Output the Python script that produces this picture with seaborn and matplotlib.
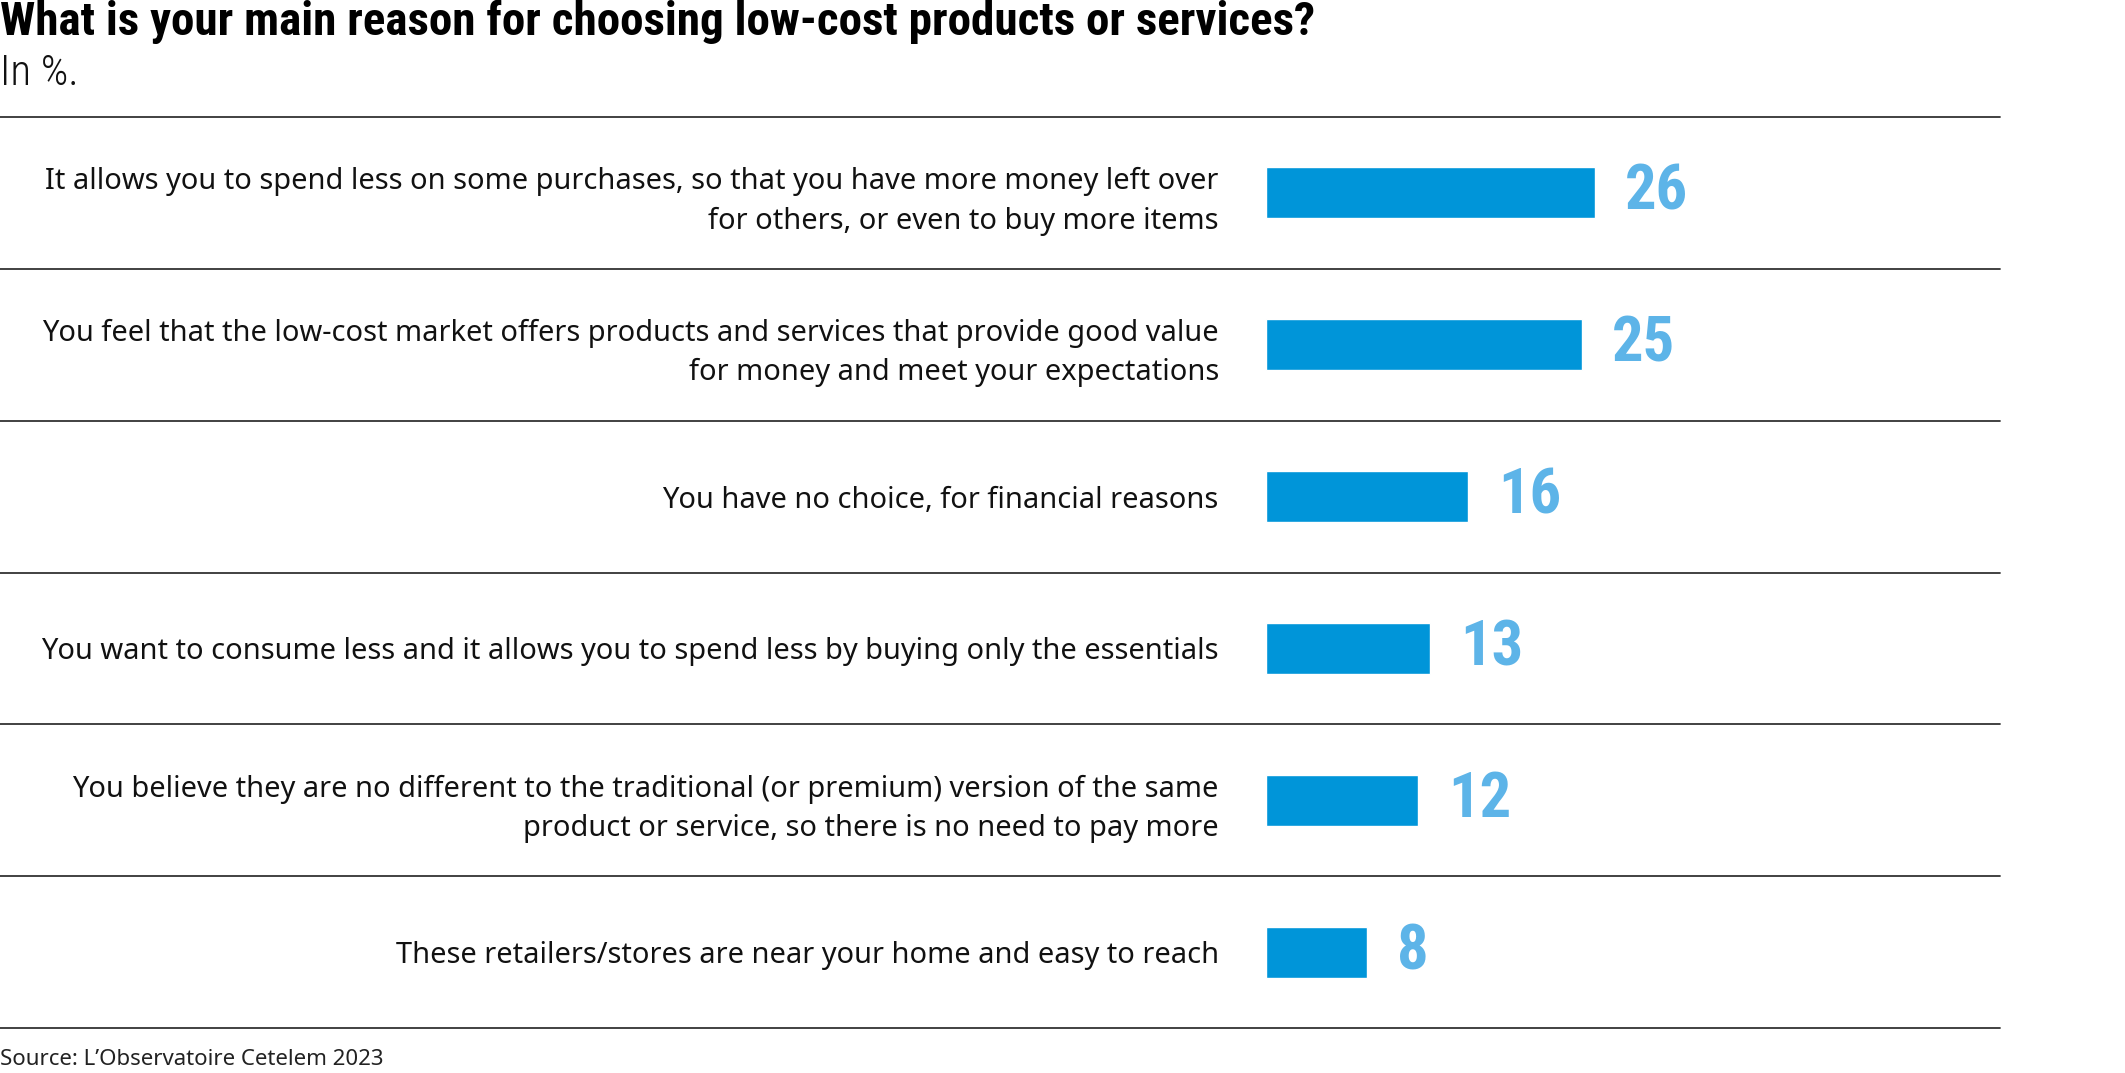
import matplotlib
matplotlib.use("Agg")
import matplotlib.pyplot as plt
import seaborn as sns
from matplotlib import font_manager

categories = [
    "It allows you to spend less on some purchases, so that you have more money left over\nfor others, or even to buy more items",
    "You feel that the low-cost market offers products and services that provide good value\nfor money and meet your expectations",
    "You have no choice, for financial reasons",
    "You want to consume less and it allows you to spend less by buying only the essentials",
    "You believe they are no different to the traditional (or premium) version of the same\nproduct or service, so there is no need to pay more",
    "These retailers/stores are near your home and easy to reach",
]
values = [26, 25, 16, 13, 12, 8]

title = "What is your main reason for choosing low-cost products or services?"
subtitle = "In %."
source = "Source: L\u2019Observatoire Cetelem 2023"

BAR_COLOR = "#0095D9"
VALUE_COLOR = "#5DB4E8"
LINE_COLOR = "#333333"

sns.set_theme(style="white")
available = {f.name for f in font_manager.fontManager.ttflist}
cond = None
for cand in ["Roboto Condensed", "Liberation Sans Narrow", "DejaVu Sans Condensed", "Open Sans Condensed", "Noto Sans Condensed"]:
    if cand in available:
        cond = cand
        break
if cond is None:
    cond = "DejaVu Sans"
body = "Noto Sans" if "Noto Sans" in available else "DejaVu Sans"
plt.rcParams["font.family"] = [body, "DejaVu Sans"]

W, H = 2125, 1073
fig = plt.figure(figsize=(W / 100, H / 100), dpi=100)
x0, x1 = 1266, 2000
y_top, y_bot = 117, 1028
ax = fig.add_axes([x0 / W, 1 - y_bot / H, (x1 - x0) / W, (y_bot - y_top) / H])

sns.barplot(x=values, y=categories, orient="h", color=BAR_COLOR, width=0.336,
            saturation=1, ax=ax)
ax.set_xlim(0, (x1 - x0) / 12.65)
ax.set_ylim(5.5, -0.5)
ax.set_xlabel("")
ax.set_ylabel("")
ax.set_xticks([])
ax.tick_params(axis="y", length=0, pad=34)
for lab in ax.get_yticklabels():
    lab.set_fontsize(20.9)
    lab.set_color("#111111")
    lab.set_ha("right")
    lab.set_multialignment("right")
    lab.set_linespacing(1.45)
for s in ax.spines.values():
    s.set_visible(False)

xmin_frac = -x0 / (x1 - x0)
for yv in [i - 0.5 for i in range(len(values) + 1)]:
    ax.axhline(yv, xmin=xmin_frac, xmax=1, color=LINE_COLOR, lw=1.3, clip_on=False)

for i, v in enumerate(values):
    ax.annotate(str(v), xy=(v, i), xytext=(21.6, 0), textcoords="offset points",
                ha="left", va="center", fontsize=45, fontweight="semibold",
                color=VALUE_COLOR, family=[cond, "DejaVu Sans"])

fig.text(0, 1 - 0 / H, title, ha="left", va="top", fontsize=33.9, fontweight="bold",
         color="#000000", family=[cond, "DejaVu Sans"])
fig.text(0, 1 - 53 / H, subtitle, ha="left", va="top", fontsize=31, fontweight="light",
         color="#111111", family=[cond, "DejaVu Sans"])
fig.text(0, 1 - 1070 / H, source, ha="left", va="bottom", fontsize=16,
         fontweight="light", color="#222222")

fig.savefig("out.png", dpi=100, facecolor="white")
